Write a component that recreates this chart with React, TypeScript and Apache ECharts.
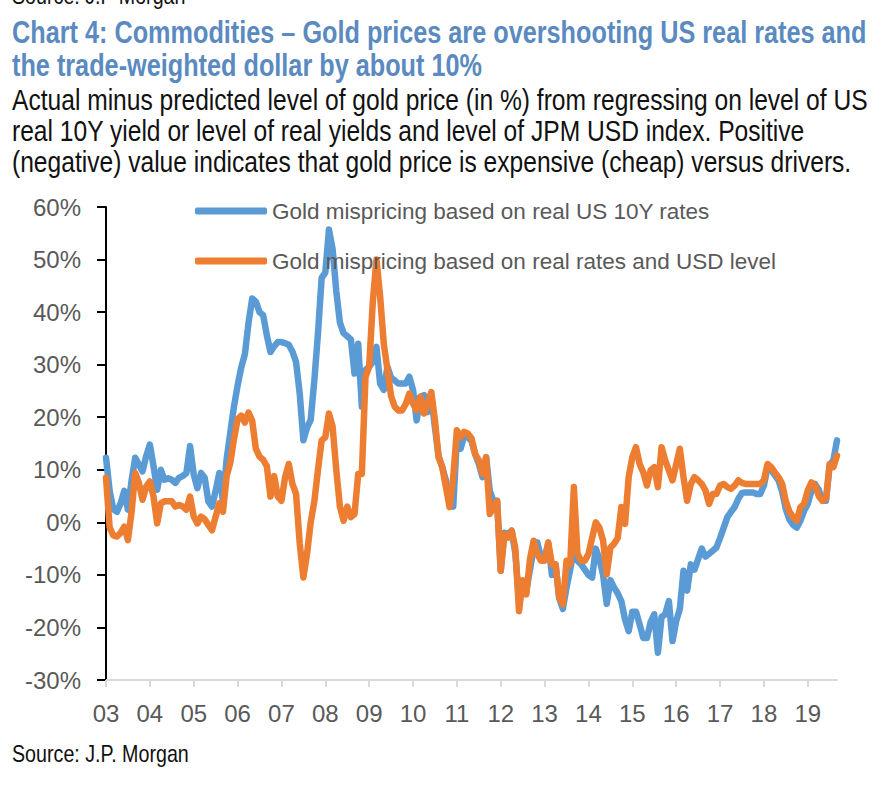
import React, { useEffect, useRef } from "react";
import * as echarts from "echarts";

// Year tick labels (each label sits at January of that year)
const yearLabels = ["03", "04", "05", "06", "07", "08", "09", "10", "11", "12", "13", "14", "15", "16", "17", "18", "19"];

// Monthly values, Jan 2003 – Sep 2019 (%)
const realRatesMispricing = [
  // 2003
  12.3, 6, 2.5, 2, 3.6, 6, 2.4, 8, 12.3, 11, 9.7, 12.6,
  // 2004
  14.8, 10.7, 6.2, 10, 8.1, 8.4, 8.1, 7.5, 8.5, 8.8, 9.4, 14.5,
  // 2005
  9.1, 6.5, 9.4, 8.5, 4, 3, 6, 9.4, 4, 12, 17, 22,
  // 2006
  26, 29.5, 32, 38, 42.6, 42, 40, 39.4, 35.6, 32.4, 33.5, 34.3,
  // 2007
  34.3, 34.1, 33.8, 32.5, 30.5, 24.5, 15.6, 18, 19.5, 27, 36, 46.5,
  // 2008
  47.5, 55.7, 52, 44, 38, 36, 35.4, 34.8, 28.3, 34, 22, 29,
  // 2009
  29.6, 30.5, 33.4, 26.4, 25.2, 29.6, 27.5, 27, 26.4, 26.4, 26.4, 27.7,
  // 2010
  25.2, 19.4, 23.9, 24.2, 21, 23.9, 18, 12.5, 10.5, 8, 4, 3,
  // 2011
  16, 14, 16.5, 16.2, 15.5, 13, 11.1, 8.6, 12.4, 6, 4.1, 4.1,
  // 2012
  -9.2, -2, -2.2, -1.6, -6, -15, -12, -13, -9, -5, -3.8, -6.7,
  // 2013
  -6.7, -4, -10, -8, -14.5, -16.5, -12.4, -9, -5.4, -7.3, -8, -9,
  // 2014
  -10, -10.5, -5, -7, -10, -15.5, -11, -12.4, -13.5, -15, -18.5, -20.7,
  // 2015
  -17, -17, -19.4, -22, -22, -19, -17.5, -24.8, -18, -17.5, -15, -22.6,
  // 2016
  -18.8, -16.5, -9.2, -13, -8, -9, -7, -5, -6.5, -6, -5.4, -4.8,
  // 2017
  -3, -1, 1, 2, 2.9, 4.5, 5.6, 5.7, 5.7, 5.7, 5.4, 5.4,
  // 2018
  7, 10.5, 10, 9, 8, 5.8, 2.5, 0.5, -0.5, -1, 0.3, 2.2,
  // 2019
  3.5, 6, 7.3, 6.2, 4.1, 4.1, 11, 11.8, 15.6,
];

const ratesAndUsdMispricing = [
  // 2003
  8.5, -1, -2.5, -2.7, -2, -0.8, -3.4, 2, 9.4, 7.5, 4.3, 6.8,
  // 2004
  7.8, 4.9, -0.2, 3.6, 4, 4, 4, 3, 3.3, 3, 2.4, 4.9,
  // 2005
  1.1, -0.2, 1.1, 0.6, -0.5, -1.5, 1.1, 3.6, 2, 8.8, 11.3, 15.8,
  // 2006
  19.6, 20.3, 19, 20.9, 19.3, 14, 12.5, 11.9, 10.7, 4.9, 8.8, 4.9,
  // 2007
  4.1, 8.6, 11.1, 7.3, 5.4, -4, -10.5, -6, 0, 4, 10, 15.6,
  // 2008
  16.2, 20.7, 18.2, 10, 3, 0.3, 3, 1, 1.6, 9.2, 9.2, 27.7,
  // 2009
  29.6, 42, 50, 43, 34, 29, 24, 22, 21.3, 21.3, 22.5, 24.5,
  // 2010
  22.6, 21.3, 23.9, 20.7, 22.6, 24.8, 19.4, 12.4, 10.5, 6.7, 2.9, 8.6,
  // 2011
  17.5, 16.2, 17.2, 16.9, 16, 13, 11.8, 9.2, 12.4, 1.6, 2.9, 4.1,
  // 2012
  -9.2, -2.2, -2.9, -1.6, -5, -16.9, -11, -13.7, -7, -3.5, -6, -7.3,
  // 2013
  -7.3, -3.8, -8, -8, -14.3, -15.6, -7.3, -8, 6.7, -6, -7.3, -7.3,
  // 2014
  -6, -3, 0, -1, -3.5, -9.9, -4.8, -4.1, -3, 2.9, -0.3, 8.6,
  // 2015
  12.4, 14.3, 11.1, 9.5, 7, 9.9, 10.5, 6.7, 14.3, 11.8, 9.9, 8,
  // 2016
  11, 14, 8.6, 4.1, 7.3, 8.6, 8, 7.3, 6.1, 3.5, 5.4, 5.4,
  // 2017
  7, 7.3, 6.7, 6.4, 7, 8, 7.5, 7.3, 7.3, 7.3, 7.3, 7.3,
  // 2018
  8, 11.1, 10.5, 9.5, 8.6, 7.3, 4, 2, 1, 0.3, 2.9, 3.5,
  // 2019
  6.1, 7.6, 7, 5, 4.1, 4.5, 11.1, 10.5, 12.7,
];

const seriesNames = [
  "Gold mispricing based on real US 10Y rates",
  "Gold mispricing based on real rates and USD level",
];

const titleLines = [
  "Chart 4: Commodities – Gold prices are overshooting US real rates and",
  "the trade-weighted dollar by about 10%",
];
const subtitleLines = [
  "Actual minus predicted level of gold price (in %) from regressing on level of US",
  "real 10Y yield or level of real yields and level of JPM USD index. Positive",
  "(negative) value indicates that gold price is expensive (cheap) versus drivers.",
];
const sourceText = "Source: J.P. Morgan";
const topSourceText = "Source: J.P Morgan";

const FONT = '"Liberation Sans", Arial, sans-serif';
const NARROW = 0.82; // horizontal squeeze to mimic Arial Narrow

// Month categories built from the year labels
const monthCategories: string[] = [];
yearLabels.forEach((y) => {
  for (let m = 1; m <= 12; m++) monthCategories.push(y + "-" + String(m).padStart(2, "0"));
});
const categories = monthCategories.slice(0, realRatesMispricing.length);

const isYearStart = (index: number) => index % 12 === 0;

export default function App() {
  const ref = useRef<HTMLDivElement>(null);

  useEffect(() => {
    if (!ref.current) return;
    const chart = echarts.init(ref.current, undefined, { renderer: "svg" });

    const narrowText = (text: string, x: number, y: number, size: number, fill: string, bold: boolean, vAlign: string) => ({
      type: "text",
      x,
      y,
      scaleX: NARROW,
      style: {
        text,
        fill,
        fontSize: size,
        fontWeight: bold ? "bold" : "normal",
        fontFamily: FONT,
        align: "left",
        verticalAlign: vAlign,
      },
    });

    const titleGraphics = titleLines.map((t, i) => narrowText(t, 12, 33 + i * 33, 30.8, "#5a8ac0", true, "middle"));
    const subtitleGraphics = subtitleLines.map((t, i) => narrowText(t, 12, 100 + i * 31, 30, "#111111", false, "middle"));

    chart.setOption({
      animation: false,
      backgroundColor: "#ffffff",
      color: ["#5b9bd5", "#ed7d31"],
      grid: { left: 106, right: 46, top: 207, bottom: 130, containLabel: false },
      legend: {
        data: seriesNames,
        orient: "vertical",
        left: 190,
        top: 191,
        itemWidth: 72,
        itemHeight: 7,
        itemGap: 20,
        icon: "roundRect",
        selectedMode: false,
        textStyle: { fontSize: 22.5, color: "#595959", fontFamily: FONT, lineHeight: 30 },
      },
      xAxis: [
        {
          type: "category",
          data: categories,
          boundaryGap: false,
          position: "bottom",
          axisLine: { show: false },
          axisTick: { show: false },
          splitLine: { show: false },
          axisLabel: {
            interval: (index: number) => isYearStart(index),
            formatter: (v: string) => v.slice(0, 2),
            fontSize: 24,
            color: "#595959",
            fontFamily: FONT,
            margin: 21,
          },
        },
        {
          type: "category",
          data: categories,
          boundaryGap: false,
          position: "bottom",
          axisLine: { show: true, onZero: true, lineStyle: { color: "#d9d9d9", width: 2 } },
          axisTick: {
            show: true,
            interval: (index: number) => isYearStart(index),
            length: 7,
            lineStyle: { color: "#d9d9d9", width: 2 },
          },
          axisLabel: { show: false },
          splitLine: { show: false },
        },
      ],
      yAxis: {
        type: "value",
        min: -30,
        max: 60,
        interval: 10,
        axisLine: { show: true, onZero: false, lineStyle: { color: "#000000", width: 2 } },
        axisTick: { show: true, length: 9, lineStyle: { color: "#000000", width: 2 } },
        splitLine: { show: false },
        axisLabel: {
          formatter: "{value}%",
          fontSize: 24,
          color: "#595959",
          fontFamily: FONT,
          margin: 25,
        },
      },
      series: [
        {
          name: seriesNames[0],
          type: "line",
          data: realRatesMispricing,
          symbol: "none",
          lineStyle: { width: 6.5, color: "#5b9bd5", cap: "round", join: "round" },
          z: 2,
        },
        {
          name: seriesNames[1],
          type: "line",
          data: ratesAndUsdMispricing,
          symbol: "none",
          lineStyle: { width: 6.5, color: "#ed7d31", cap: "round", join: "round" },
          z: 3,
        },
      ],
      graphic: [
        narrowText(topSourceText, 12, 8, 24, "#111111", false, "bottom"),
        ...titleGraphics,
        ...subtitleGraphics,
        narrowText(sourceText, 12, 754, 24, "#111111", false, "middle"),
      ],
    });

    return () => chart.dispose();
  }, []);

  return (
    <div
      ref={ref}
      style={{ position: "absolute", left: 0, top: 0, width: 883, height: 810, background: "#fff" }}
    />
  );
}
